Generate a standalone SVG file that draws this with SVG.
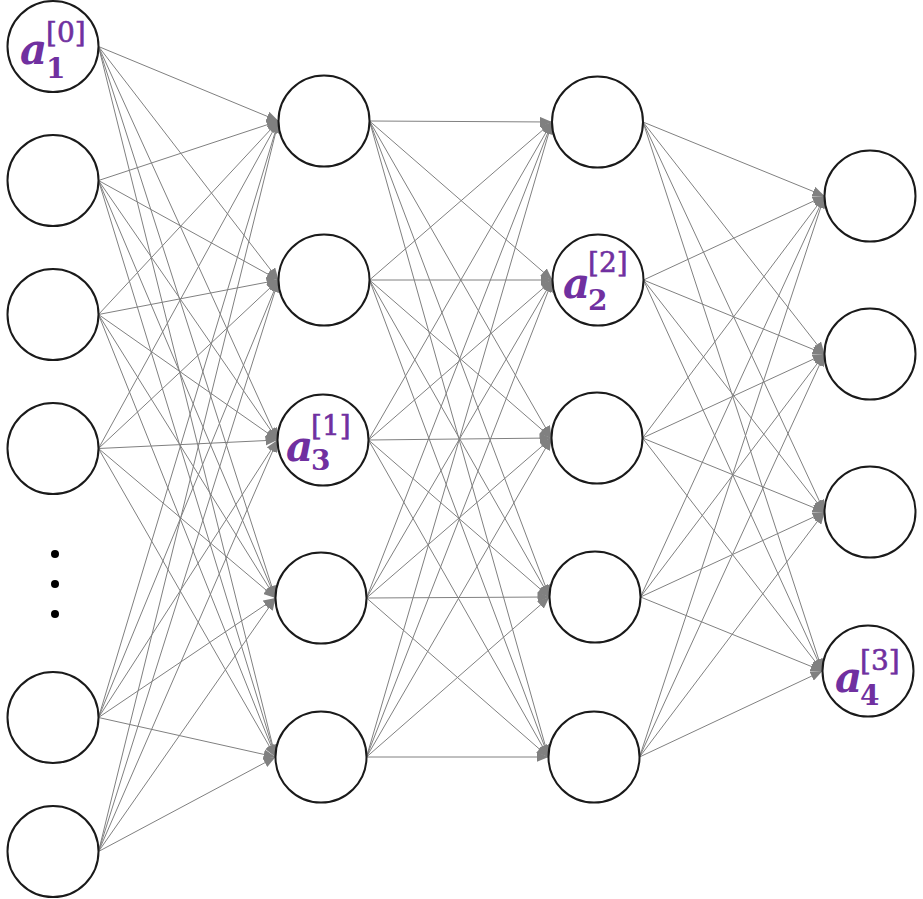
<svg xmlns="http://www.w3.org/2000/svg" width="923" height="899" viewBox="0 0 923 899">
<style>
.c{stroke:#808080;stroke-width:1;fill:none;marker-end:url(#arr)}
.n{fill:#fff;stroke:#1a1a1a;stroke-width:2}
.a{font-family:"DejaVu Serif",serif;font-weight:bold;font-style:italic;font-size:42px;fill:#7030A0}
.s{font-family:"DejaVu Serif",serif;font-weight:bold;font-size:28px;fill:#7030A0}
.p{font-family:"DejaVu Serif",serif;font-size:28px;fill:#7030A0;stroke:#7030A0;stroke-width:0.6}
</style>
<defs>
<marker id="arr" markerUnits="userSpaceOnUse" markerWidth="12" markerHeight="10" refX="12" refY="5" orient="auto">
<path d="M0,0 L12,5 L0,10 z" fill="#808080"/>
</marker>
</defs>
<rect width="923" height="899" fill="#fff"/>
<g id="connectors">
<line class="c" x1="98.5" y1="46.5" x2="278.5" y2="121"/>
<line class="c" x1="98.5" y1="46.5" x2="278.5" y2="280"/>
<line class="c" x1="98.5" y1="46.5" x2="277.5" y2="440"/>
<line class="c" x1="98.5" y1="46.5" x2="275.5" y2="598"/>
<line class="c" x1="98.5" y1="46.5" x2="275.5" y2="757"/>
<line class="c" x1="98.5" y1="180.5" x2="278.5" y2="121"/>
<line class="c" x1="98.5" y1="180.5" x2="278.5" y2="280"/>
<line class="c" x1="98.5" y1="180.5" x2="277.5" y2="440"/>
<line class="c" x1="98.5" y1="180.5" x2="275.5" y2="598"/>
<line class="c" x1="98.5" y1="180.5" x2="275.5" y2="757"/>
<line class="c" x1="98.5" y1="314.5" x2="278.5" y2="121"/>
<line class="c" x1="98.5" y1="314.5" x2="278.5" y2="280"/>
<line class="c" x1="98.5" y1="314.5" x2="277.5" y2="440"/>
<line class="c" x1="98.5" y1="314.5" x2="275.5" y2="598"/>
<line class="c" x1="98.5" y1="314.5" x2="275.5" y2="757"/>
<line class="c" x1="98.5" y1="448.5" x2="278.5" y2="121"/>
<line class="c" x1="98.5" y1="448.5" x2="278.5" y2="280"/>
<line class="c" x1="98.5" y1="448.5" x2="277.5" y2="440"/>
<line class="c" x1="98.5" y1="448.5" x2="275.5" y2="598"/>
<line class="c" x1="98.5" y1="448.5" x2="275.5" y2="757"/>
<line class="c" x1="98.5" y1="717.5" x2="278.5" y2="121"/>
<line class="c" x1="98.5" y1="717.5" x2="278.5" y2="280"/>
<line class="c" x1="98.5" y1="717.5" x2="277.5" y2="440"/>
<line class="c" x1="98.5" y1="717.5" x2="275.5" y2="598"/>
<line class="c" x1="98.5" y1="717.5" x2="275.5" y2="757"/>
<line class="c" x1="98.5" y1="851.5" x2="278.5" y2="121"/>
<line class="c" x1="98.5" y1="851.5" x2="278.5" y2="280"/>
<line class="c" x1="98.5" y1="851.5" x2="277.5" y2="440"/>
<line class="c" x1="98.5" y1="851.5" x2="275.5" y2="598"/>
<line class="c" x1="98.5" y1="851.5" x2="275.5" y2="757"/>

<line class="c" x1="369.5" y1="121" x2="552" y2="122"/>
<line class="c" x1="369.5" y1="121" x2="552.5" y2="280"/>
<line class="c" x1="369.5" y1="121" x2="551.5" y2="438"/>
<line class="c" x1="369.5" y1="121" x2="549.5" y2="597"/>
<line class="c" x1="369.5" y1="121" x2="548.5" y2="757"/>
<line class="c" x1="369.5" y1="280" x2="552" y2="122"/>
<line class="c" x1="369.5" y1="280" x2="552.5" y2="280"/>
<line class="c" x1="369.5" y1="280" x2="551.5" y2="438"/>
<line class="c" x1="369.5" y1="280" x2="549.5" y2="597"/>
<line class="c" x1="369.5" y1="280" x2="548.5" y2="757"/>
<line class="c" x1="368.5" y1="440" x2="552" y2="122"/>
<line class="c" x1="368.5" y1="440" x2="552.5" y2="280"/>
<line class="c" x1="368.5" y1="440" x2="551.5" y2="438"/>
<line class="c" x1="368.5" y1="440" x2="549.5" y2="597"/>
<line class="c" x1="368.5" y1="440" x2="548.5" y2="757"/>
<line class="c" x1="366.5" y1="598" x2="552" y2="122"/>
<line class="c" x1="366.5" y1="598" x2="552.5" y2="280"/>
<line class="c" x1="366.5" y1="598" x2="551.5" y2="438"/>
<line class="c" x1="366.5" y1="598" x2="549.5" y2="597"/>
<line class="c" x1="366.5" y1="598" x2="548.5" y2="757"/>
<line class="c" x1="366.5" y1="757" x2="552" y2="122"/>
<line class="c" x1="366.5" y1="757" x2="552.5" y2="280"/>
<line class="c" x1="366.5" y1="757" x2="551.5" y2="438"/>
<line class="c" x1="366.5" y1="757" x2="549.5" y2="597"/>
<line class="c" x1="366.5" y1="757" x2="548.5" y2="757"/>

<line class="c" x1="643" y1="122" x2="824.5" y2="196"/>
<line class="c" x1="643" y1="122" x2="824.5" y2="354"/>
<line class="c" x1="643" y1="122" x2="824.5" y2="512"/>
<line class="c" x1="643" y1="122" x2="822.5" y2="671"/>
<line class="c" x1="643.5" y1="280" x2="824.5" y2="196"/>
<line class="c" x1="643.5" y1="280" x2="824.5" y2="354"/>
<line class="c" x1="643.5" y1="280" x2="824.5" y2="512"/>
<line class="c" x1="643.5" y1="280" x2="822.5" y2="671"/>
<line class="c" x1="642.5" y1="438" x2="824.5" y2="196"/>
<line class="c" x1="642.5" y1="438" x2="824.5" y2="354"/>
<line class="c" x1="642.5" y1="438" x2="824.5" y2="512"/>
<line class="c" x1="642.5" y1="438" x2="822.5" y2="671"/>
<line class="c" x1="640.5" y1="597" x2="824.5" y2="196"/>
<line class="c" x1="640.5" y1="597" x2="824.5" y2="354"/>
<line class="c" x1="640.5" y1="597" x2="824.5" y2="512"/>
<line class="c" x1="640.5" y1="597" x2="822.5" y2="671"/>
<line class="c" x1="639.5" y1="757" x2="824.5" y2="196"/>
<line class="c" x1="639.5" y1="757" x2="824.5" y2="354"/>
<line class="c" x1="639.5" y1="757" x2="824.5" y2="512"/>
<line class="c" x1="639.5" y1="757" x2="822.5" y2="671"/>
</g>

<g id="l0n1"><circle class="n" cx="53" cy="46.5" r="45.5"/>
<text class="a" x="20" y="63.5">a</text><text class="s" x="46" y="78">1</text><text class="p" x="46" y="42">[0]</text></g>
<g id="l0n2"><circle class="n" cx="53" cy="180.5" r="45.5"/></g>
<g id="l0n3"><circle class="n" cx="53" cy="314.5" r="45.5"/></g>
<g id="l0n4"><circle class="n" cx="53" cy="448.5" r="45.5"/></g>
<g id="l0dots" fill="#000"><circle cx="55" cy="554" r="4"/><circle cx="55" cy="584" r="4"/><circle cx="55" cy="614" r="4"/></g>
<g id="l0n5"><circle class="n" cx="53" cy="717.5" r="45.5"/></g>
<g id="l0n6"><circle class="n" cx="53" cy="851.5" r="45.5"/></g>

<g id="l1n1"><circle class="n" cx="324" cy="121" r="45.5"/></g>
<g id="l1n2"><circle class="n" cx="324" cy="280" r="45.5"/></g>
<g id="l1n3"><circle class="n" cx="323" cy="440" r="45.5"/>
<text class="a" x="286" y="461">a</text><text class="s" x="311" y="470">3</text><text class="p" x="311" y="435">[1]</text></g>
<g id="l1n4"><circle class="n" cx="321" cy="598" r="45.5"/></g>
<g id="l1n5"><circle class="n" cx="321" cy="757" r="45.5"/></g>

<g id="l2n1"><circle class="n" cx="597.5" cy="122" r="45.5"/></g>
<g id="l2n2"><circle class="n" cx="598" cy="280" r="45.5"/>
<text class="a" x="563" y="298">a</text><text class="s" x="588" y="310">2</text><text class="p" x="588" y="272">[2]</text></g>
<g id="l2n3"><circle class="n" cx="597" cy="438" r="45.5"/></g>
<g id="l2n4"><circle class="n" cx="595" cy="597" r="45.5"/></g>
<g id="l2n5"><circle class="n" cx="594" cy="757" r="45.5"/></g>

<g id="l3n1"><circle class="n" cx="870" cy="196" r="45.5"/></g>
<g id="l3n2"><circle class="n" cx="870" cy="354" r="45.5"/></g>
<g id="l3n3"><circle class="n" cx="870" cy="512" r="45.5"/></g>
<g id="l3n4"><circle class="n" cx="868" cy="671" r="45.5"/>
<text class="a" x="835" y="692">a</text><text class="s" x="860" y="705">4</text><text class="p" x="860" y="670">[3]</text></g>
</svg>
